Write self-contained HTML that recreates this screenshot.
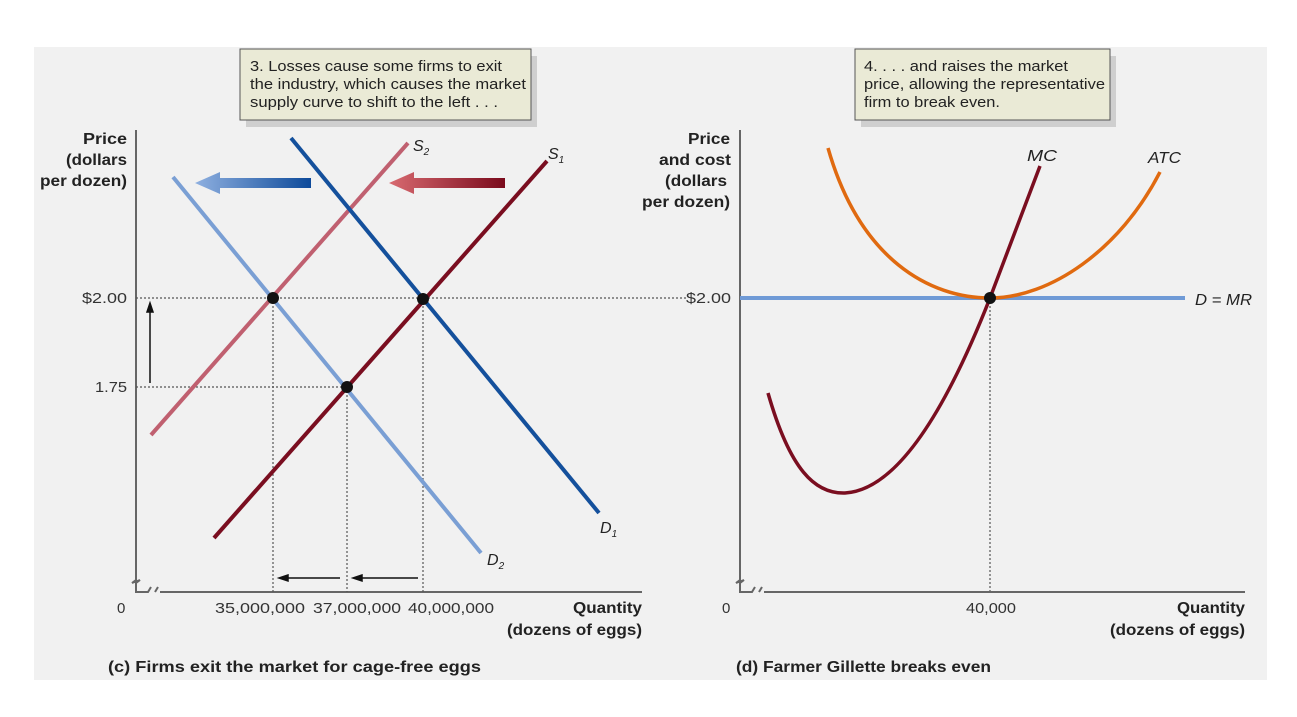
<!DOCTYPE html>
<html><head><meta charset="utf-8"><style>
body{margin:0;background:#fff;}
svg{display:block;font-family:"Liberation Sans",Arial,sans-serif;}
</style></head><body>
<svg width="1297" height="717" viewBox="0 0 1297 717" xmlns="http://www.w3.org/2000/svg">
<defs>
<linearGradient id="gb" x1="0" x2="1" y1="0" y2="0"><stop offset="0" stop-color="#8fb0e0"/><stop offset="1" stop-color="#0d4a9a"/></linearGradient>
<linearGradient id="gr" x1="0" x2="1" y1="0" y2="0"><stop offset="0" stop-color="#d86a70"/><stop offset="1" stop-color="#7a0a1c"/></linearGradient>
</defs>
<rect x="34" y="47" width="1233" height="633" fill="#f1f1f1"/>
<!-- boxes -->
<rect x="246" y="56" width="291" height="71" fill="#cfcfcf"/>
<rect x="240" y="49" width="291" height="71" fill="#eaead6" stroke="#555" stroke-width="1"/>
<g font-size="15" fill="#222" lengthAdjust="spacingAndGlyphs">
<text x="250" y="71" textLength="252" lengthAdjust="spacingAndGlyphs">3. Losses cause some firms to exit</text>
<text x="250" y="89" textLength="276" lengthAdjust="spacingAndGlyphs">the industry, which causes the market</text>
<text x="250" y="107" textLength="248" lengthAdjust="spacingAndGlyphs">supply curve to shift to the left . . .</text>
</g>
<rect x="861" y="56" width="255" height="71" fill="#cfcfcf"/>
<rect x="855" y="49" width="255" height="71" fill="#eaead6" stroke="#555" stroke-width="1"/>
<g font-size="15" fill="#222">
<text x="864" y="71" textLength="204" lengthAdjust="spacingAndGlyphs">4. . . . and raises the market</text>
<text x="864" y="89" textLength="241" lengthAdjust="spacingAndGlyphs">price, allowing the representative</text>
<text x="864" y="107" textLength="136" lengthAdjust="spacingAndGlyphs">firm to break even.</text>
</g>

<!-- left axes -->
<path d="M136,130 V580 l-4,3 l8,-3 l-4,3 V592 H148 l3,-5 m4,5 l3,-5 M160,592 H642" fill="none" stroke="#666" stroke-width="2"/>
<g font-size="16" font-weight="bold" fill="#222">
<text x="83" y="144" textLength="44" lengthAdjust="spacingAndGlyphs">Price</text>
<text x="66" y="165" textLength="61" lengthAdjust="spacingAndGlyphs">(dollars</text>
<text x="40" y="186" textLength="87" lengthAdjust="spacingAndGlyphs">per dozen)</text>
</g>
<g font-size="15" fill="#333">
<text x="82" y="303" textLength="45" lengthAdjust="spacingAndGlyphs">$2.00</text>
<text x="95" y="392" textLength="32" lengthAdjust="spacingAndGlyphs">1.75</text>
<text x="117" y="613">0</text>
<text x="215" y="613" textLength="90" lengthAdjust="spacingAndGlyphs">35,000,000</text>
<text x="313" y="613" textLength="88" lengthAdjust="spacingAndGlyphs">37,000,000</text>
<text x="408" y="613" textLength="86" lengthAdjust="spacingAndGlyphs">40,000,000</text>
</g>
<g font-size="16" font-weight="bold" fill="#222">
<text x="573" y="613" textLength="69" lengthAdjust="spacingAndGlyphs">Quantity</text>
<text x="507" y="635" textLength="135" lengthAdjust="spacingAndGlyphs">(dozens of eggs)</text>
<text x="108" y="672" textLength="373" lengthAdjust="spacingAndGlyphs">(c) Firms exit the market for cage-free eggs</text>
</g>

<!-- dotted -->
<g stroke="#555" stroke-width="1.2" stroke-dasharray="2,2" fill="none">
<path d="M136,298 H686"/><path d="M136,387 H346"/>
<path d="M273,298 V592"/><path d="M347,387 V592"/><path d="M423,298 V592"/>
<path d="M990,298 V592"/>
</g>
<!-- small arrows -->
<g stroke="#111" stroke-width="1.5" fill="#111">
<path d="M150,383 V308"/><path d="M147,312 L150,303 L153,312Z"/>
<path d="M340,578 H286"/><path d="M288,575 L279,578 L288,581Z"/>
<path d="M418,578 H360"/><path d="M362,575 L353,578 L362,581Z"/>
</g>
<!-- curves -->
<g stroke-width="4" fill="none">
<path d="M173,177 L481,553" stroke="#7a9fd4"/>
<path d="M151,435 L408,143" stroke="#c06070"/>
<path d="M291,138 L599,513" stroke="#14509c"/>
<path d="M214,538 L547,161" stroke="#7a0e20"/>
</g>
<!-- big arrows -->
<path d="M195,183 L220,172 L220,178 L311,178 L311,188 L220,188 L220,194Z" fill="url(#gb)"/>
<path d="M389,183 L414,172 L414,178 L505,178 L505,188 L414,188 L414,194Z" fill="url(#gr)"/>
<g fill="#111"><circle cx="273" cy="298" r="6"/><circle cx="423" cy="299" r="6"/><circle cx="347" cy="387" r="6"/></g>
<g font-size="16" font-style="italic" fill="#222">
<text x="413" y="151">S<tspan font-size="10" dy="4">2</tspan></text>
<text x="548" y="159">S<tspan font-size="10" dy="4">1</tspan></text>
<text x="600" y="533">D<tspan font-size="10" dy="4">1</tspan></text>
<text x="487" y="565">D<tspan font-size="10" dy="4">2</tspan></text>
</g>

<!-- right panel -->
<path d="M740,130 V580 l-4,3 l8,-3 l-4,3 V592 H752 l3,-5 m4,5 l3,-5 M764,592 H1245" fill="none" stroke="#666" stroke-width="2"/>
<g font-size="16" font-weight="bold" fill="#222">
<text x="688" y="144" textLength="42" lengthAdjust="spacingAndGlyphs">Price</text>
<text x="659" y="165" textLength="72" lengthAdjust="spacingAndGlyphs">and cost</text>
<text x="665" y="186" textLength="62" lengthAdjust="spacingAndGlyphs">(dollars</text>
<text x="642" y="207" textLength="88" lengthAdjust="spacingAndGlyphs">per dozen)</text>
</g>
<g font-size="15" fill="#333">
<text x="686" y="303" textLength="45" lengthAdjust="spacingAndGlyphs">$2.00</text>
<text x="722" y="613">0</text>
<text x="966" y="613" textLength="50" lengthAdjust="spacingAndGlyphs">40,000</text>
</g>
<g font-size="16" font-weight="bold" fill="#222">
<text x="1177" y="613" textLength="68" lengthAdjust="spacingAndGlyphs">Quantity</text>
<text x="1110" y="635" textLength="135" lengthAdjust="spacingAndGlyphs">(dozens of eggs)</text>
<text x="736" y="672" textLength="255" lengthAdjust="spacingAndGlyphs">(d) Farmer Gillette breaks even</text>
</g>
<path d="M740,298 H1185" stroke="#6f9ad6" stroke-width="4"/>
<path d="M828,148 C860,260 930,298 990,298 C1050,298 1120,250 1160,172" stroke="#e06a10" stroke-width="3.5" fill="none"/>
<path d="M768,393 C790,470 815,494 845,493 C900,490 950,400 990,298 L1040,166" stroke="#7a0e20" stroke-width="3.5" fill="none"/>
<circle cx="990" cy="298" r="6" fill="#111"/>
<g font-size="16" font-style="italic" fill="#222">
<text x="1027" y="161" textLength="30" lengthAdjust="spacingAndGlyphs">MC</text>
<text x="1148" y="163" textLength="33" lengthAdjust="spacingAndGlyphs">ATC</text>
<text x="1195" y="305" textLength="57" lengthAdjust="spacingAndGlyphs">D = MR</text>
</g>
</svg>
</body></html>
